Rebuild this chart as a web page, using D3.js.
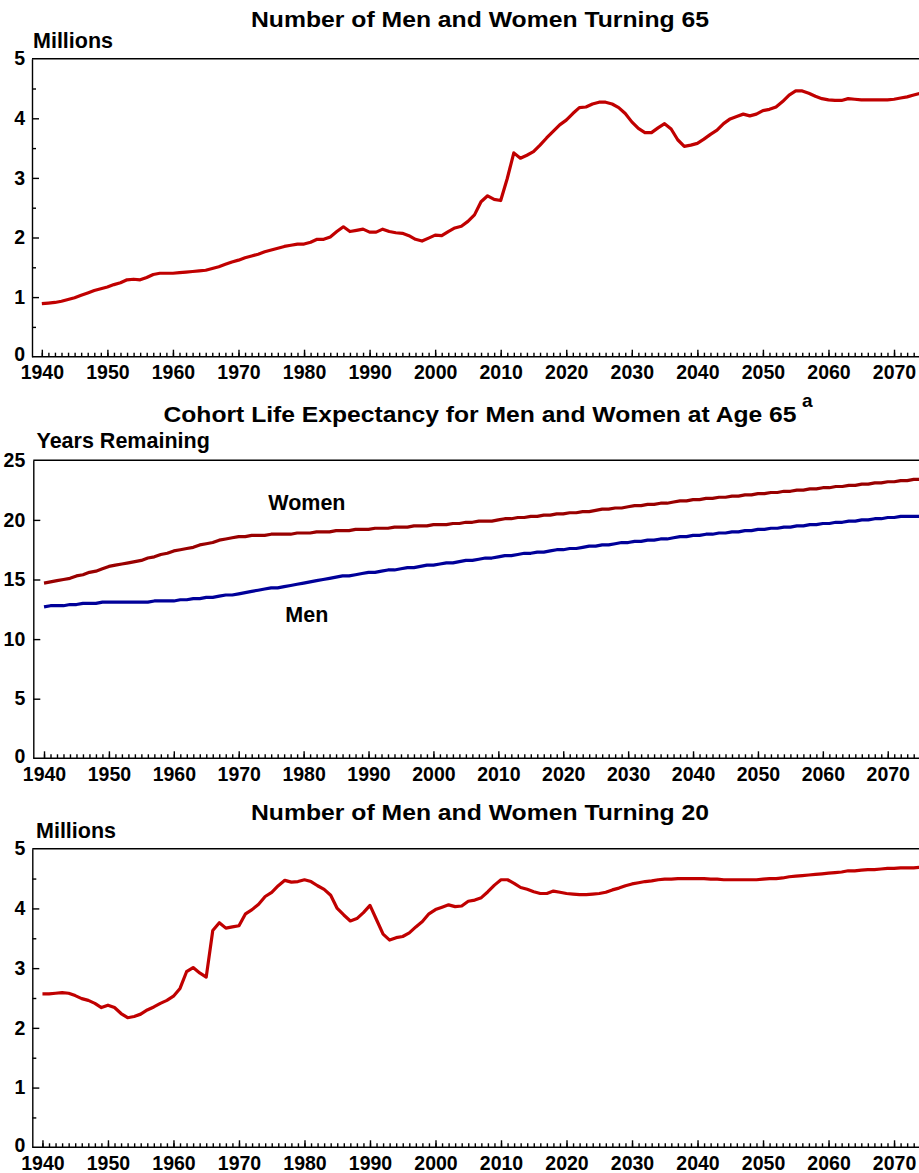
<!DOCTYPE html>
<html lang="en">
<head>
<meta charset="utf-8">
<title>Turning 65, Life Expectancy at 65, Turning 20</title>
<script src="https://d3js.org/d3.v7.min.js"></script>
<style>
  body, html { margin: 0; padding: 0; background: #fff; }
  svg text { font-family: "Liberation Sans", Arial, Helvetica, sans-serif; font-weight: bold; fill: #000; }
  .axis path, .axis line { stroke: #000; stroke-width: 1.4; }
</style>
</head>
<body>
<script>
var W = 919, H = 1173;

// years shown on the x axis, one point per year
var years = d3.range(1940, 2076);
var decadeTicks = [1940, 1950, 1960, 1970, 1980, 1990, 2000, 2010, 2020, 2030, 2040, 2050, 2060, 2070];

// millions turning 65
var turning65 = [
  0.89, 0.90, 0.91, 0.93, 0.96, 0.99, 1.03, 1.07, 1.11, 1.14,
  1.17, 1.21, 1.24, 1.29, 1.30, 1.29, 1.33, 1.38, 1.40, 1.40,
  1.40, 1.41, 1.42, 1.43, 1.44, 1.45, 1.48, 1.51, 1.55, 1.59,
  1.62, 1.66, 1.69, 1.72, 1.76, 1.79, 1.82, 1.85, 1.87, 1.89,
  1.89, 1.92, 1.97, 1.97, 2.01, 2.10, 2.18, 2.10, 2.12, 2.14,
  2.09, 2.09, 2.14, 2.10, 2.08, 2.07, 2.03, 1.97, 1.94, 1.99,
  2.04, 2.03, 2.10, 2.16, 2.19, 2.27, 2.38, 2.60, 2.70, 2.64,
  2.62, 2.99, 3.42, 3.33, 3.38, 3.44, 3.55, 3.67, 3.78, 3.89,
  3.97, 4.08, 4.18, 4.19, 4.24, 4.27, 4.27, 4.24, 4.18, 4.08,
  3.94, 3.83, 3.76, 3.76, 3.84, 3.91, 3.82, 3.64, 3.53, 3.55,
  3.58, 3.65, 3.73, 3.80, 3.91, 3.99, 4.03, 4.07, 4.04, 4.07,
  4.13, 4.15, 4.19, 4.28, 4.39, 4.46, 4.46, 4.42, 4.37, 4.33,
  4.31, 4.30, 4.30, 4.33, 4.32, 4.31, 4.31, 4.31, 4.31, 4.31,
  4.32, 4.34, 4.36, 4.39, 4.42, 4.45
];

// cohort life expectancy at 65, years remaining
var lifeWomen = [
  14.7, 14.8, 14.9, 15.0, 15.1, 15.3, 15.4, 15.6, 15.7, 15.9,
  16.1, 16.2, 16.3, 16.4, 16.5, 16.6, 16.8, 16.9, 17.1, 17.2,
  17.4, 17.5, 17.6, 17.7, 17.9, 18.0, 18.1, 18.3, 18.4, 18.5,
  18.6, 18.6, 18.7, 18.7, 18.7, 18.8, 18.8, 18.8, 18.8, 18.9,
  18.9, 18.9, 19.0, 19.0, 19.0, 19.1, 19.1, 19.1, 19.2, 19.2,
  19.2, 19.3, 19.3, 19.3, 19.4, 19.4, 19.4, 19.5, 19.5, 19.5,
  19.6, 19.6, 19.6, 19.7, 19.7, 19.8, 19.8, 19.9, 19.9, 19.9,
  20.0, 20.1, 20.1, 20.2, 20.2, 20.3, 20.3, 20.4, 20.4, 20.5,
  20.5, 20.6, 20.6, 20.7, 20.7, 20.8, 20.9, 20.9, 21.0, 21.0,
  21.1, 21.2, 21.2, 21.3, 21.3, 21.4, 21.4, 21.5, 21.6, 21.6,
  21.7, 21.7, 21.8, 21.8, 21.9, 21.9, 22.0, 22.0, 22.1, 22.1,
  22.2, 22.2, 22.3, 22.3, 22.4, 22.4, 22.5, 22.5, 22.6, 22.6,
  22.7, 22.7, 22.8, 22.8, 22.9, 22.9, 23.0, 23.0, 23.1, 23.1,
  23.2, 23.2, 23.3, 23.3, 23.4, 23.4
];
var lifeMen = [
  12.7, 12.8, 12.8, 12.8, 12.9, 12.9, 13.0, 13.0, 13.0, 13.1,
  13.1, 13.1, 13.1, 13.1, 13.1, 13.1, 13.1, 13.2, 13.2, 13.2,
  13.2, 13.3, 13.3, 13.4, 13.4, 13.5, 13.5, 13.6, 13.7, 13.7,
  13.8, 13.9, 14.0, 14.1, 14.2, 14.3, 14.3, 14.4, 14.5, 14.6,
  14.7, 14.8, 14.9, 15.0, 15.1, 15.2, 15.3, 15.3, 15.4, 15.5,
  15.6, 15.6, 15.7, 15.8, 15.8, 15.9, 16.0, 16.0, 16.1, 16.2,
  16.2, 16.3, 16.4, 16.4, 16.5, 16.6, 16.6, 16.7, 16.8, 16.8,
  16.9, 17.0, 17.0, 17.1, 17.2, 17.2, 17.3, 17.3, 17.4, 17.5,
  17.5, 17.6, 17.6, 17.7, 17.8, 17.8, 17.9, 17.9, 18.0, 18.1,
  18.1, 18.2, 18.2, 18.3, 18.3, 18.4, 18.4, 18.5, 18.6, 18.6,
  18.7, 18.7, 18.8, 18.8, 18.9, 18.9, 19.0, 19.0, 19.1, 19.1,
  19.2, 19.2, 19.3, 19.3, 19.4, 19.4, 19.5, 19.5, 19.6, 19.6,
  19.7, 19.7, 19.8, 19.8, 19.9, 19.9, 20.0, 20.0, 20.1, 20.1,
  20.2, 20.2, 20.3, 20.3, 20.3, 20.3
];

// millions turning 20
var turning20 = [
  2.57, 2.57, 2.58, 2.59, 2.58, 2.54, 2.49, 2.46, 2.41, 2.34,
  2.38, 2.34, 2.24, 2.17, 2.19, 2.23, 2.30, 2.35, 2.41, 2.46,
  2.53, 2.66, 2.94, 3.01, 2.92, 2.85, 3.63, 3.76, 3.67, 3.69,
  3.71, 3.91, 3.98, 4.07, 4.20, 4.27, 4.38, 4.47, 4.44, 4.45,
  4.48, 4.45, 4.38, 4.32, 4.22, 4.00, 3.89, 3.79, 3.83, 3.93,
  4.05, 3.81, 3.57, 3.47, 3.51, 3.53, 3.59, 3.69, 3.78, 3.91,
  3.98, 4.02, 4.06, 4.03, 4.04, 4.12, 4.14, 4.18, 4.28, 4.39,
  4.48, 4.48, 4.42, 4.35, 4.32, 4.28, 4.25, 4.25, 4.29, 4.27,
  4.25, 4.24, 4.23, 4.23, 4.24, 4.25, 4.27, 4.31, 4.34, 4.38,
  4.41, 4.43, 4.45, 4.46, 4.48, 4.49, 4.49, 4.50, 4.50, 4.50,
  4.50, 4.50, 4.49, 4.49, 4.48, 4.48, 4.48, 4.48, 4.48, 4.48,
  4.49, 4.50, 4.50, 4.51, 4.53, 4.54, 4.55, 4.56, 4.57, 4.58,
  4.59, 4.60, 4.61, 4.63, 4.63, 4.64, 4.65, 4.65, 4.66, 4.67,
  4.67, 4.68, 4.68, 4.68, 4.69, 4.69
];

var svg = d3.select("body")
  .append("svg")
  .attr("width", W)
  .attr("height", H);

function panel(opt) {
  var x = d3.scaleLinear().domain(opt.xDomain).range(opt.xRange);
  var y = d3.scaleLinear().domain(opt.yDomain).range([opt.bottom, opt.top]);
  var g = svg.append("g");

  // top border of the frame
  g.append("line")
    .attr("x1", opt.xRange[0]).attr("x2", W + 20)
    .attr("y1", opt.top).attr("y2", opt.top)
    .attr("stroke", "#000").attr("stroke-width", 1.4);

  // yearly minor ticks
  g.append("g")
    .attr("class", "axis")
    .attr("transform", "translate(0," + opt.bottom + ")")
    .call(d3.axisBottom(x).tickValues(years).tickSizeInner(-4).tickSizeOuter(0).tickFormat(""))
    .call(function(a) { a.select(".domain").remove(); });

  // decade ticks + labels
  g.append("g")
    .attr("class", "axis")
    .attr("transform", "translate(0," + opt.bottom + ")")
    .call(d3.axisBottom(x).tickValues(decadeTicks).tickSizeInner(-7).tickSizeOuter(0).tickPadding(8.5).tickFormat(d3.format("d")))
    .call(function(a) {
      a.select(".domain").attr("d", "M" + opt.xRange[0] + ",0H" + (W + 20));
      a.selectAll("text").style("font-size", "19.5px");
    });

  if (opt.yMinor) {
    g.append("g")
      .attr("class", "axis")
      .attr("transform", "translate(" + opt.xRange[0] + ",0)")
      .call(d3.axisLeft(y).tickValues(opt.yMinor).tickSizeInner(-4).tickSizeOuter(0).tickFormat(""))
      .call(function(a) { a.select(".domain").remove(); });
  }

  g.append("g")
    .attr("class", "axis")
    .attr("transform", "translate(" + opt.xRange[0] + ",0)")
    .call(d3.axisLeft(y).tickValues(opt.yTicks).tickSizeInner(-7).tickSizeOuter(0).tickPadding(opt.yPad).tickFormat(d3.format("d")))
    .call(function(a) {
      a.selectAll("text").style("font-size", "19.5px");
      a.selectAll(".tick").filter(function(d) { return d === opt.yDomain[0] || d === opt.yDomain[1]; })
        .select("line").remove();
      // zero label sits a touch above the year labels
      a.selectAll(".tick").filter(function(d) { return d === opt.yDomain[0]; })
        .select("text").attr("dy", "0.2em");
    });

  var line = d3.line()
    .x(function(d, i) { return x(years[i]); })
    .y(function(d) { return y(d); });

  opt.series.forEach(function(s) {
    g.append("path")
      .datum(s.values)
      .attr("fill", "none")
      .attr("stroke", s.color)
      .attr("stroke-width", 3.2)
      .attr("stroke-linejoin", "round")
      .attr("d", line);
  });

  g.append("text")
    .attr("x", 480).attr("y", opt.titleY)
    .attr("text-anchor", "middle")
    .attr("textLength", opt.titleLen)
    .attr("lengthAdjust", "spacingAndGlyphs")
    .style("font-size", "22px")
    .text(opt.title);

  g.append("text")
    .attr("x", opt.unitX).attr("y", opt.unitY)
    .style("font-size", "21.5px")
    .text(opt.unit);

  return {x: x, y: y, g: g};
}

panel({
  xDomain: [1938.5, 2075], xRange: [32, 926.8],
  yDomain: [0, 5], top: 58.7, bottom: 356.7,
  yTicks: [0, 1, 2, 3, 4, 5], yMinor: [0.5, 1.5, 2.5, 3.5, 4.5], yPad: 7,
  series: [{values: turning65, color: "#C00000"}],
  title: "Number of Men and Women Turning 65", titleY: 27, titleLen: 458,
  unit: "Millions", unitX: 33, unitY: 47.5
});

var mid = panel({
  xDomain: [1938.35, 2075], xRange: [33.3, 920.2],
  yDomain: [0, 25], top: 460.3, bottom: 758.3,
  yTicks: [0, 5, 10, 15, 20, 25], yMinor: null, yPad: 8,
  series: [{values: lifeWomen, color: "#990000"}, {values: lifeMen, color: "#000099"}],
  title: "Cohort Life Expectancy for Men and Women at Age 65", titleY: 421.5, titleLen: 633,
  unit: "Years Remaining", unitX: 36.5, unitY: 448
});

mid.g.append("text")
  .attr("x", 802).attr("y", 407)
  .style("font-size", "19px")
  .text("a");

mid.g.append("text")
  .attr("x", mid.x(1980.5)).attr("y", mid.y(20.8))
  .attr("text-anchor", "middle")
  .style("font-size", "21.5px")
  .text("Women");

mid.g.append("text")
  .attr("x", mid.x(1980.5)).attr("y", mid.y(11.4))
  .attr("text-anchor", "middle")
  .style("font-size", "21.5px")
  .text("Men");

panel({
  xDomain: [1938.45, 2075], xRange: [32.3, 926.8],
  yDomain: [0, 5], top: 848.7, bottom: 1147.3,
  yTicks: [0, 1, 2, 3, 4, 5], yMinor: [0.5, 1.5, 2.5, 3.5, 4.5], yPad: 7,
  series: [{values: turning20, color: "#C00000"}],
  title: "Number of Men and Women Turning 20", titleY: 820, titleLen: 458,
  unit: "Millions", unitX: 36, unitY: 838
});
</script>
</body>
</html>
